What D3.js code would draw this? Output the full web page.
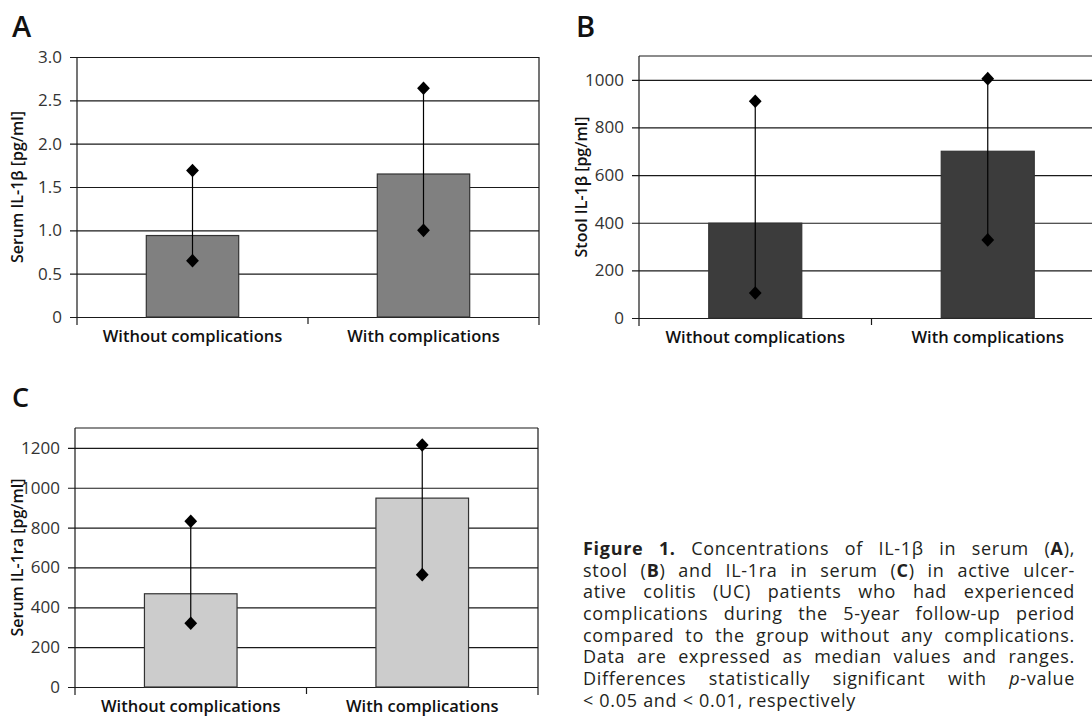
<!DOCTYPE html>
<html>
<head>
<meta charset="utf-8">
<script src="https://cdn.jsdelivr.net/npm/d3@7"></script>
<style>
  html, body { margin: 0; padding: 0; background: #fff; }
  body { width: 1092px; height: 716px; position: relative; overflow: hidden; font-family: "Open Sans", sans-serif; }
  #caption { position: absolute; left: 583px; top: 538px; width: 492px; font-size: 18px; line-height: 21.7px; letter-spacing: 0.7px; color: #231f20; }
  #caption div { height: 21.7px; text-align: justify; text-align-last: justify; white-space: nowrap; }
  #caption div.last { text-align-last: left; }
</style>
</head>
<body>
<div id="plot"></div>
<div id="caption">
  <div><b>Figure 1.</b> Concentrations of IL-1β in serum (<b>A</b>),</div>
  <div>stool (<b>B</b>) and IL-1ra in serum (<b>C</b>) in active ulcer-</div>
  <div>ative colitis (UC) patients who had experienced</div>
  <div>complications during the 5-year follow-up period</div>
  <div>compared to the group without any complications.</div>
  <div>Data are expressed as median values and ranges.</div>
  <div>Differences statistically significant with <i>p</i>-value</div>
  <div class="last">&lt; 0.05 and &lt; 0.01, respectively</div>
</div>
<script>
const categories = ["Without complications", "With complications"];

// A: serum IL-1beta
const serumIL1bMedian = [0.94, 1.65];
const serumIL1bMin = [0.65, 1.0];
const serumIL1bMax = [1.69, 2.64];
const ticksA = [0, 0.5, 1.0, 1.5, 2.0, 2.5, 3.0];

// B: stool IL-1beta
const stoolIL1bMedian = [398, 700];
const stoolIL1bMin = [105, 328];
const stoolIL1bMax = [910, 1005];
const ticksB = [0, 200, 400, 600, 800, 1000];

// C: serum IL-1ra
const serumIL1raMedian = [468, 948];
const serumIL1raMin = [320, 564];
const serumIL1raMax = [832, 1215];
const ticksC = [0, 200, 400, 600, 800, 1000, 1200];

const svg = d3.select("#plot")
    .append("svg")
    .attr("width", 1092)
    .attr("height", 716)
    .style("position", "absolute")
    .style("left", 0)
    .style("top", 0);

function drawPanel(p) {
  const width = p.right - p.left;
  const height = p.bottom - p.top;
  const g = svg.append("g").attr("transform", "translate(" + p.left + "," + p.top + ")");

  const x = d3.scaleBand()
      .domain(categories)
      .range([0, width])
      .paddingInner(0.6)
      .paddingOuter(0.3);
  const y = d3.scaleLinear()
      .domain([0, p.max])
      .range([height, 0]);

  // frame
  if (p.frame) {
    g.append("line").attr("x1", 0).attr("x2", width).attr("y1", 0).attr("y2", 0)
        .attr("stroke", "#1a1a1a").attr("stroke-width", 1.2);
  }
  g.append("line").attr("x1", width).attr("x2", width).attr("y1", 0).attr("y2", height + 8)
      .attr("stroke", "#1a1a1a").attr("stroke-width", 1.2);

  // y axis + gridlines
  const yAxis = g.append("g")
      .call(d3.axisLeft(y).tickValues(p.ticks).tickSize(7).tickPadding(8).tickFormat(p.fmt));
  yAxis.select(".domain").remove();
  yAxis.selectAll(".tick line")
      .attr("x1", -7).attr("x2", width)
      .attr("stroke", "#1a1a1a").attr("stroke-width", 1.2);
  yAxis.selectAll(".tick text")
      .style("font-family", "'Open Sans', sans-serif")
      .style("font-size", "17px")
      .attr("fill", "#333");

  g.append("line").attr("x1", 0).attr("x2", 0).attr("y1", 0).attr("y2", height + 8)
      .attr("stroke", "#1a1a1a").attr("stroke-width", 1.2);
  g.append("line").attr("x1", width / 2).attr("x2", width / 2).attr("y1", height).attr("y2", height + 7)
      .attr("stroke", "#1a1a1a").attr("stroke-width", 1.2);

  // bars
  g.selectAll("rect.bar")
      .data(p.median)
      .enter()
      .append("rect")
      .attr("class", "bar")
      .attr("x", (d, i) => x(categories[i]))
      .attr("y", d => y(d))
      .attr("width", x.bandwidth())
      .attr("height", d => height - y(d))
      .attr("fill", p.color)
      .attr("stroke", "#333")
      .attr("stroke-width", 1.2);

  // ranges
  const cx = i => x(categories[i]) + x.bandwidth() / 2;
  g.selectAll("line.range")
      .data(p.median)
      .enter()
      .append("line")
      .attr("x1", (d, i) => cx(i)).attr("x2", (d, i) => cx(i))
      .attr("y1", (d, i) => y(p.maxv[i])).attr("y2", (d, i) => y(p.minv[i]))
      .attr("stroke", "#000").attr("stroke-width", 1.2);

  const diamond = "M0,-6.8L6.4,0L0,6.8L-6.4,0Z";
  const pts = [];
  p.median.forEach((d, i) => { pts.push([i, p.minv[i]]); pts.push([i, p.maxv[i]]); });
  g.selectAll("path.marker")
      .data(pts)
      .enter()
      .append("path")
      .attr("d", diamond)
      .attr("transform", d => "translate(" + cx(d[0]) + "," + y(d[1]) + ")")
      .attr("fill", "#000");

  // category labels
  g.selectAll("text.cat")
      .data(categories)
      .enter()
      .append("text")
      .attr("x", d => x(d) + x.bandwidth() / 2)
      .attr("y", height + 25)
      .attr("text-anchor", "middle")
      .style("font-family", "'Open Sans', sans-serif")
      .style("font-size", "16.5px")
      .style("font-weight", 600)
      .attr("fill", "#111")
      .text(d => d);

  // y title
  svg.append("text")
      .attr("transform", "translate(" + p.titleX + "," + (p.top + height / 2) + ") rotate(-90)")
      .attr("text-anchor", "middle")
      .style("font-family", "'Open Sans', sans-serif")
      .style("font-size", "16px")
      .style("font-weight", 600)
      .attr("fill", "#111")
      .text(p.title);

  // panel letter
  svg.append("text")
      .attr("x", p.letterX)
      .attr("y", p.letterY)
      .style("font-family", "'Open Sans', sans-serif")
      .style("font-size", p.letterSize + "px")
      .style("font-weight", 600)
      .attr("fill", "#111")
      .text(p.letter);
}

drawPanel({
  left: 77, right: 539, top: 57, bottom: 317, max: 3, frame: false,
  ticks: ticksA, fmt: d => d === 0 ? "0" : d3.format(".1f")(d),
  median: serumIL1bMedian, minv: serumIL1bMin, maxv: serumIL1bMax,
  color: "#808080", title: "Serum IL-1β [pg/ml]", titleX: 23,
  letter: "A", letterX: 12, letterY: 37, letterSize: 29
});

drawPanel({
  left: 639, right: 1104, top: 56, bottom: 318, max: 1100, frame: true,
  ticks: ticksB, fmt: d3.format("d"),
  median: stoolIL1bMedian, minv: stoolIL1bMin, maxv: stoolIL1bMax,
  color: "#3c3c3c", title: "Stool IL-1β [pg/ml]", titleX: 587,
  letter: "B", letterX: 576, letterY: 37, letterSize: 29
});

drawPanel({
  left: 75, right: 538, top: 428, bottom: 687, max: 1300, frame: true,
  ticks: ticksC, fmt: d3.format("d"),
  median: serumIL1raMedian, minv: serumIL1raMin, maxv: serumIL1raMax,
  color: "#cccccc", title: "Serum IL-1ra [pg/ml]", titleX: 23,
  letter: "C", letterX: 12, letterY: 407, letterSize: 27
});
</script>
</body>
</html>
